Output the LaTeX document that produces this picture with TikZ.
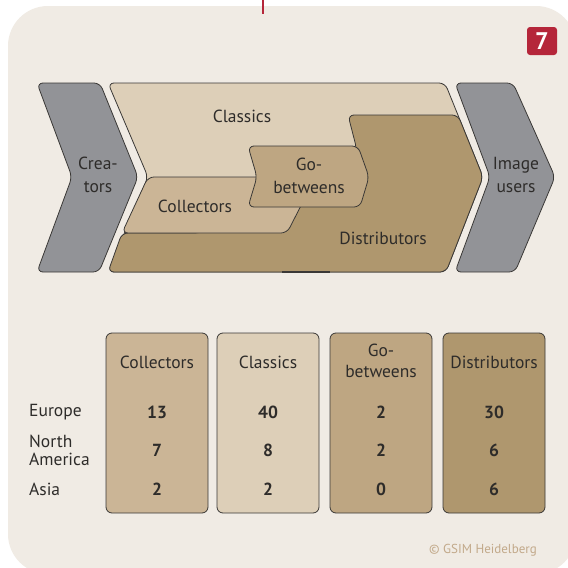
\documentclass[tikz,border=0pt]{standalone}
\usepackage{fontspec}
\setmainfont{PT Sans}
\definecolor{panel}{HTML}{F0EBE4}
\definecolor{outl}{HTML}{3A3836}
\definecolor{greyc}{HTML}{929397}
\definecolor{classc}{HTML}{DDCFB8}
\definecolor{collc}{HTML}{CBB596}
\definecolor{gobc}{HTML}{BEA682}
\definecolor{distc}{HTML}{AF976E}
\definecolor{redc}{HTML}{B5263A}
\definecolor{copyc}{HTML}{C2A98A}
\definecolor{txt}{HTML}{2E2C2A}
\begin{document}
\begin{tikzpicture}[x=1pt,y=-1pt,
  shp/.style={draw=outl, line width=0.8pt, rounded corners=6pt, line join=round},
  lbl/.style={text=txt, font=\fontsize{17.5}{22.5}\selectfont, align=center, inner sep=0pt},
  col/.style={draw=outl, line width=0.8pt, rounded corners=6pt, minimum width=102pt, minimum height=180pt, inner sep=0pt},
  num/.style={text=txt, font=\fontsize{17.5}{18}\selectfont\bfseries, inner sep=0pt},
  rowl/.style={text=txt, font=\fontsize{17.5}{18}\selectfont, align=left, anchor=west, inner sep=0pt}]
\useasboundingbox (0,0) rectangle (568,568);
\fill[white] (0,0) rectangle (568,568);
\fill[panel, rounded corners=40pt] (8,6) rectangle (576,574);
\draw[redc, line width=1.3pt] (263,0) -- (263,14);
% badge
\node[fill=redc, rounded corners=3pt, minimum width=30pt, minimum height=28pt, inner sep=0pt,
  text=white, font=\fontsize{24}{24}\selectfont\bfseries] (badge) at (542,41) {7};
% grey chevrons
\draw[shp, fill=greyc] (37,83) -- (100,83) -- (138,177) -- (99,272) -- (37,272) -- (72,177) -- cycle;
\draw[shp, fill=greyc] (455,83) -- (513,83) -- (555,177) -- (515,272) -- (455,272) -- (490,177) -- cycle;
% classics
\draw[shp, fill=classc] (108,83) -- (445,83) -- (483,177) -- (446,272) -- (108,272) -- (148,177) -- cycle;
% distributors
\draw[shp, fill=distc] (348,115) -- (458,115) -- (483,177) -- (446,272) -- (108,272) -- (122,233)
   -- (200,233) -- (270,205) -- (320,180) -- (357,150) -- cycle;
% collectors
\draw[shp, fill=collc] (148,177) -- (268,177) -- (309,190) -- (287,233) -- (122,233) -- cycle;
% go-betweens
\draw[shp, fill=gobc] (248,146) -- (358,146) -- (369,177) -- (360,207) -- (248,207) -- (257,177) -- cycle;
\draw[outl, line width=2pt] (282,271.5) -- (330,271.5);
% labels
\node[lbl] (creators) at (98,175) {Crea-\\tors};
\node[lbl] (imageusers) at (516,175) {Image\\users};
\node[lbl] (classics) at (242,116) {Classics};
\node[lbl] (collectors) at (195,206) {Collectors};
\node[lbl] (gobetweens) at (309,176) {Go-\\betweens};
\node[lbl] (distributors) at (383,238) {Distributors};
% table
\node[col, fill=collc] (c1) at (157,423) {};
\node[col, fill=classc] (c2) at (268,423) {};
\node[col, fill=gobc] (c3) at (381,423) {};
\node[col, fill=distc] (c4) at (494,423) {};
\node[lbl] (h1) at (157,362) {Collectors};
\node[lbl] (h2) at (268,362) {Classics};
\node[lbl, font=\fontsize{17.5}{21}\selectfont] (h3) at (381,361) {Go-\\betweens};
\node[lbl] (h4) at (494,362) {Distributors};
\node[rowl] (r1) at (29,412) {Europe};
\node[rowl] (r2) at (29,450) {North\\America};
\node[rowl] (r3) at (29,489) {Asia};
\node[num] at (157,412) {13};
\node[num] at (268,412) {40};
\node[num] at (381,412) {2};
\node[num] at (494,412) {30};
\node[num] at (157,450) {7};
\node[num] at (268,450) {8};
\node[num] at (381,450) {2};
\node[num] at (494,450) {6};
\node[num] at (157,489) {2};
\node[num] at (268,489) {2};
\node[num] at (381,489) {0};
\node[num] at (494,489) {6};
\node[text=copyc, font=\fontsize{13}{13}\selectfont, anchor=east, inner sep=0pt] (copy) at (537,550) {© GSIM Heidelberg};
\end{tikzpicture}
\end{document}
